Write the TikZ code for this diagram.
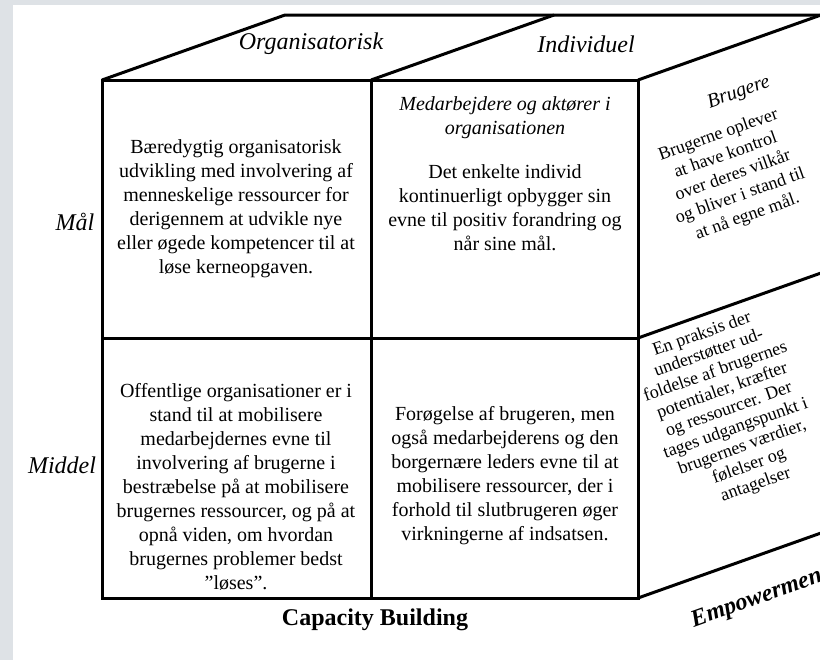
\documentclass[tikz,border=0pt]{standalone}
\usepackage{fontspec}
\setmainfont{Liberation Serif}
\definecolor{bggray}{RGB}{222,226,230}
\begin{document}
\begin{tikzpicture}[x=0.5pt, y=-0.5pt, line width=1.5pt,
  cell/.style={align=center, font=\fontsize{10}{12}\selectfont},
  sidetext/.style={align=center, rotate=19.6, font=\fontsize{9}{10.8}\selectfont},
  axis/.style={font=\fontsize{12}{14}\selectfont\itshape}]
\fill[bggray] (0,0) rectangle (820,660);
\fill[white] (13,5) rectangle (820,660);
\useasboundingbox (0,0) rectangle (820,660);
\coordinate (tl) at (102,80);
\coordinate (tm) at (371,80);
\coordinate (tr) at (638,80);
\coordinate (ml) at (102,338);
\coordinate (mr) at (638,338);
\coordinate (bl) at (102,598);
\coordinate (bm) at (371,598);
\coordinate (br) at (638,598);
\coordinate (btl) at (285,15);
\coordinate (btm) at (554,15);
\coordinate (btr) at (821,15);
\coordinate (smr) at (821,273);
\coordinate (sbr) at (821,533);
\draw (tl) -- (tr) -- (br) -- (bl) -- cycle;
\draw (tm) -- (bm);
\draw (ml) -- (mr);
\draw (tl) -- (btl) -- (btr);
\draw (tm) -- (btm);
\draw (tr) -- (btr);
\draw (mr) -- (smr);
\draw (br) -- (sbr);
\node[axis] (org) at (311,44) {Organisatorisk};
\node[axis] (ind) at (586,44) {Individuel};
\node[axis] (maal) at (75,222) {Mål};
\node[axis] (middel) at (62,465) {Middel};
\node[font=\fontsize{12}{14}\selectfont\bfseries] (cap) at (375,620) {Capacity Building};
\node[sidetext, font=\fontsize{12}{14}\selectfont\bfseries\itshape] (emp) at (760,598) {Empowerment};
\node[cell] (orgmaal) at (236,209) {Bæredygtig organisatorisk\\udvikling med involvering af\\menneskelige ressourcer for\\derigennem at udvikle nye\\eller øgede kompetencer til at\\løse kerneopgaven.};
\node[cell, anchor=north] (indmaal) at (505,88) {\textit{Medarbejdere og aktører i}\\\textit{organisationen}\\[10pt]Det enkelte individ\\kontinuerligt opbygger sin\\evne til positiv forandring og\\når sine mål.};
\node[cell] (orgmid) at (236,487) {Offentlige organisationer er i\\stand til at mobilisere\\medarbejdernes evne til\\involvering af brugerne i\\bestræbelse på at mobilisere\\brugernes ressourcer, og på at\\opnå viden, om hvordan\\brugernes problemer bedst\\”løses”.};
\node[cell] (indmid) at (505,476) {Forøgelse af brugeren, men\\også medarbejderens og den\\borgernære leders evne til at\\mobilisere ressourcer, der i\\forhold til slutbrugeren øger\\virkningerne af indsatsen.};
\node[sidetext, font=\fontsize{10}{12}\selectfont\itshape] (brug) at (739,93) {Brugere};
\node[sidetext] (brugmaal) at (733,176) {Brugerne oplever\\at have kontrol\\over deres vilkår\\og bliver i stand til\\at nå egne mål.};
\node[sidetext, font=\fontsize{9}{10}\selectfont] (brugmid) at (729,410) {En praksis der\\understøtter ud-\\foldelse af brugernes\\potentialer, kræfter\\og ressourcer. Der\\tages udgangspunkt i\\brugernes værdier,\\følelser og\\antagelser};
\end{tikzpicture}
\end{document}
